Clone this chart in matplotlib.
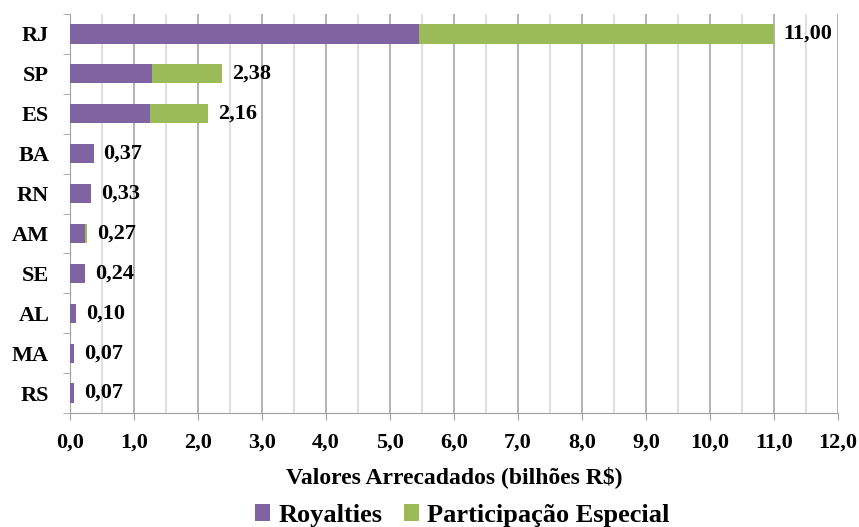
import matplotlib.pyplot as plt
import numpy as np

estados = ['RJ', 'SP', 'ES', 'BA', 'RN', 'AM', 'SE', 'AL', 'MA', 'RS']
royalties = [5.45, 1.28, 1.25, 0.37, 0.33, 0.24, 0.24, 0.10, 0.07, 0.07]
participacao = [5.55, 1.10, 0.91, 0.00, 0.00, 0.03, 0.00, 0.00, 0.00, 0.00]
xticks = [0, 1, 2, 3, 4, 5, 6, 7, 8, 9, 10, 11, 12]

plt.rcParams['font.family'] = ['Liberation Serif', 'DejaVu Serif']
plt.rcParams['font.weight'] = 'bold'

fig = plt.figure(figsize=(8.59, 5.27), dpi=100)
ax = fig.add_axes([0.0815, 0.2163, 0.894, 0.7571])

y = np.arange(len(estados))
ax.barh(y, royalties, height=0.48, color='#8064A2', label='Royalties', zorder=3)
ax.barh(y, participacao, height=0.48, left=royalties, color='#9BBB59',
        label='Participação Especial', zorder=3)

totais = np.array(royalties) + np.array(participacao)
for yi, t in zip(y, totais):
    ax.annotate(f'{t:.2f}'.replace('.', ','), (t, yi), xytext=(7, 0),
                textcoords='offset points', va='center', ha='left',
                fontsize=16, fontweight='bold')

ax.set_xlim(0, 12)
ax.set_ylim(len(estados) - 0.5, -0.5)
ax.set_xticks(xticks)
ax.set_xticklabels([f'{v:.1f}'.replace('.', ',') for v in xticks],
                   fontsize=16, fontweight='bold')
ax.set_xticks(np.arange(0.5, 12, 1), minor=True)
ax.tick_params(axis='x', which='minor', length=0)
ax.tick_params(axis='x', which='major', length=5, color='#A0A0A0', pad=9)

ax.set_yticks(y)
ax.set_yticklabels(estados, fontsize=16, fontweight='bold')
ax.set_yticks(np.arange(-0.5, len(estados), 1), minor=True)
ax.tick_params(axis='y', which='major', length=0, pad=15)
ax.tick_params(axis='y', which='minor', length=5, color='#A0A0A0')

ax.grid(axis='x', which='major', color='#A6A6A6', linewidth=1.2, zorder=0)
ax.grid(axis='x', which='minor', color='#D9D9D9', linewidth=1.2, zorder=0)
for s in ['top', 'right']:
    ax.spines[s].set_visible(False)
for s in ['left', 'bottom']:
    ax.spines[s].set_color('#A0A0A0')

ax.set_xlabel('Valores Arrecadados (bilhões R$)', fontsize=17,
              fontweight='bold', labelpad=10)

fig.legend(loc='lower center', bbox_to_anchor=(0.538, -0.045), ncol=2,
           frameon=False, prop={'size': 19, 'weight': 'bold'},
           handlelength=0.6, handleheight=0.6, handletextpad=0.3,
           columnspacing=0.8)

fig.savefig('out.png', dpi=100)
